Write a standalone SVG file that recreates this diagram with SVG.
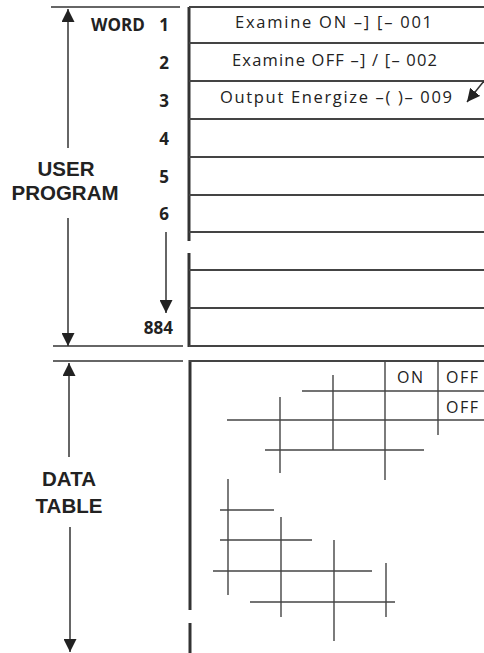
<svg xmlns="http://www.w3.org/2000/svg" width="484" height="653" viewBox="0 0 484 653">
<style>
.lbl{font-family:"Liberation Sans",Arial,sans-serif;font-weight:bold;font-size:20.5px;fill:#222}
.word{font-family:"Open Sans","Liberation Sans",sans-serif;font-weight:bold;font-size:17px;fill:#222}
.num{font-family:"Open Sans","Liberation Sans",sans-serif;font-weight:bold;font-size:17px;fill:#222;text-anchor:end}
.row{font-family:"Open Sans","Liberation Sans",sans-serif;font-size:16.5px;fill:#222}
.cell{font-family:"Open Sans","Liberation Sans",sans-serif;font-size:16px;letter-spacing:1.5px;fill:#222}
.thick{stroke:#333;stroke-width:3;fill:none}
.rule{stroke:#444;stroke-width:2;fill:none}
.thin{stroke:#333;stroke-width:1.5;fill:none}
.grid{stroke:#444;stroke-width:1.4;fill:none}
</style>
<defs>
<marker id="ah2" viewBox="0 0 10 10" refX="10" refY="5" markerWidth="13" markerHeight="13" markerUnits="userSpaceOnUse" orient="auto">
<path d="M0,0 L10,5 L0,10 Z" fill="#222"/>
</marker>
</defs>

<g id="user-program">
<line class="thick" x1="189" y1="7" x2="189" y2="241"/>
<line class="thick" x1="189" y1="253" x2="189" y2="347"/>
<line class="rule" x1="189" y1="7" x2="484" y2="7"/>
<line class="rule" x1="189" y1="43" x2="484" y2="43"/>
<line class="rule" x1="189" y1="81" x2="484" y2="81"/>
<line class="rule" x1="189" y1="119" x2="484" y2="119"/>
<line class="rule" x1="189" y1="157" x2="484" y2="157"/>
<line class="rule" x1="189" y1="195" x2="484" y2="195"/>
<line class="rule" x1="189" y1="232" x2="484" y2="232"/>
<line class="rule" x1="189" y1="270" x2="484" y2="270"/>
<line class="rule" x1="189" y1="308" x2="484" y2="308"/>
<line class="rule" x1="189" y1="346" x2="484" y2="346"/>
<text class="row" x="235" y="28" textLength="197" lengthAdjust="spacing">Examine ON  –]  [– 001</text>
<text class="row" x="232" y="66" textLength="205" lengthAdjust="spacing">Examine OFF –] / [– 002</text>
<text class="row" x="220" y="103" textLength="232" lengthAdjust="spacing">Output Energize –( )– 009</text>
</g>

<g id="word-labels">
<text class="word" x="91" y="31">WORD</text>
<text class="num" x="169" y="31">1</text>
<text class="num" x="169" y="69">2</text>
<text class="num" x="169" y="107">3</text>
<text class="num" x="169" y="145">4</text>
<text class="num" x="169" y="183">5</text>
<text class="num" x="169" y="220">6</text>
<text class="num" x="173" y="334">884</text>
<text class="lbl" x="66" y="175.5" text-anchor="middle">USER</text>
<text class="lbl" x="65" y="199.5" text-anchor="middle">PROGRAM</text>
<text class="lbl" x="69" y="486" text-anchor="middle">DATA</text>
<text class="lbl" x="69" y="513" text-anchor="middle">TABLE</text>
</g>

<g id="data-table">
<line class="thick" x1="190" y1="360" x2="190" y2="610"/>
<line class="thick" x1="190" y1="623" x2="190" y2="653"/>
<line class="rule" x1="189" y1="361" x2="484" y2="361"/>
<line class="grid" x1="385" y1="361" x2="385" y2="480"/>
<line class="grid" x1="438" y1="361" x2="438" y2="435"/>
<line class="grid" x1="302" y1="391" x2="484" y2="391"/>
<line class="grid" x1="227" y1="420" x2="484" y2="420"/>
<line class="grid" x1="265" y1="450" x2="424" y2="450"/>
<line class="grid" x1="333" y1="375" x2="333" y2="450"/>
<line class="grid" x1="280" y1="397" x2="280" y2="473"/>
<line class="grid" x1="228" y1="479" x2="228" y2="595"/>
<line class="grid" x1="220" y1="510" x2="274" y2="510"/>
<line class="grid" x1="281" y1="517" x2="281" y2="617"/>
<line class="grid" x1="220" y1="540" x2="312" y2="540"/>
<line class="grid" x1="334" y1="540" x2="334" y2="641"/>
<line class="grid" x1="213" y1="571" x2="372" y2="571"/>
<line class="grid" x1="386" y1="563" x2="386" y2="617"/>
<line class="grid" x1="250" y1="602" x2="395" y2="602"/>
<text class="cell" x="397" y="383">ON</text>
<text class="cell" x="446" y="383">OFF</text>
<text class="cell" x="446" y="413">OFF</text>
</g>

<g id="connectors">
<line class="thin" x1="51" y1="7" x2="180" y2="7"/>
<line class="thin" x1="53" y1="346" x2="183" y2="346"/>
<line class="thin" x1="53" y1="361" x2="183" y2="361"/>
<line class="thin" x1="68" y1="148" x2="68" y2="9" marker-end="url(#ah2)"/>
<line class="thin" x1="68" y1="218" x2="68" y2="346" marker-end="url(#ah2)"/>
<line class="thin" x1="69" y1="457" x2="69" y2="363" marker-end="url(#ah2)"/>
<line class="thin" x1="70" y1="527" x2="70" y2="652" marker-end="url(#ah2)"/>
<line class="thin" x1="166" y1="232" x2="166" y2="313" marker-end="url(#ah2)"/>
<line class="thin" x1="484" y1="81" x2="467" y2="102" marker-end="url(#ah2)"/>
</g>
</svg>
